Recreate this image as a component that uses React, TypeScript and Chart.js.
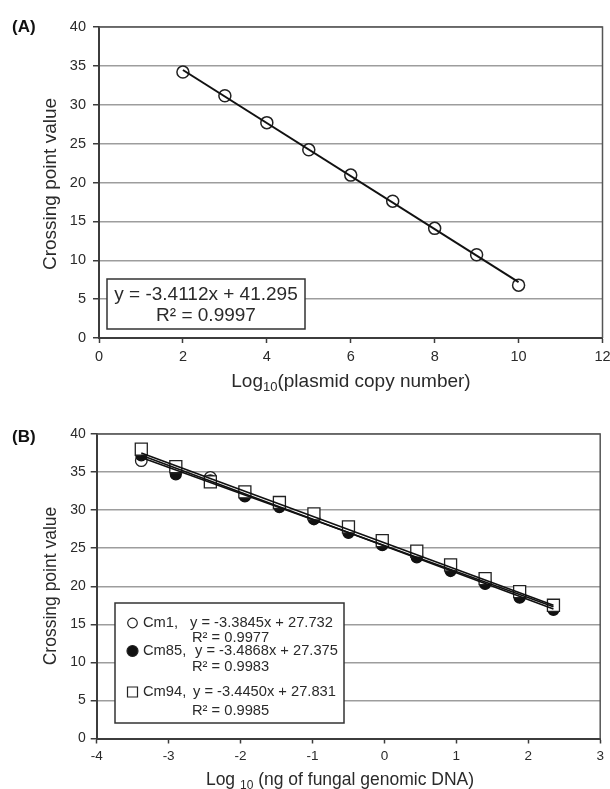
import React, { useEffect, useRef } from "react";
import { Chart, registerables } from "chart.js";
Chart.register(...registerables);

const FONT = "'Liberation Sans', Arial, Helvetica, sans-serif";
const TXT = "#2a2a2a";
const GRID = "#9d9d9d";
const AXIS = "#3c3c3c";

// ---------- Panel A data ----------
const plasmidLog = [2, 3, 4, 5, 6, 7, 8, 9, 10];
const plasmidCp = [34.2, 31.15, 27.7, 24.2, 20.95, 17.6, 14.1, 10.7, 6.8];
const trendAX = [2, 10];
const trendAY = [34.47, 7.18];
const eqA = ["y = -3.4112x + 41.295", "R² = 0.9997"];
const titleAX = ["Log", "10", "(plasmid copy number)"];
const titleY = "Crossing point value";

// ---------- Panel B data ----------
const dnaLog = [-3.38, -2.9, -2.42, -1.94, -1.46, -0.98, -0.5, -0.03, 0.45, 0.92, 1.4, 1.88, 2.35];
const cm1 = [36.5, 35.2, 34.3, 32.3, 30.7, 29.0, 27.3, 25.6, 24.0, 22.3, 20.6, 18.9, 17.2];
const cm85 = [37.2, 34.7, 33.9, 31.8, 30.4, 28.8, 27.0, 25.4, 23.8, 22.0, 20.3, 18.5, 16.9];
const cm94 = [38.0, 35.7, 33.7, 32.4, 31.0, 29.5, 27.8, 26.0, 24.6, 22.8, 21.0, 19.3, 17.5];
const trendBX = [-3.38, 2.35];
const trendCm1 = [36.9, 17.3];
const trendCm85 = [37.2, 17.0];
const trendCm94 = [37.5, 17.5];
const legendNames = ["Cm1,", "Cm85,", "Cm94,"];
const legendEqs = ["y = -3.3845x + 27.732", "y = -3.4868x + 27.375", "y = -3.4450x + 27.831"];
const legendR2 = ["R² = 0.9977", "R² = 0.9983", "R² = 0.9985"];
const titleBX = ["Log ", "10", " (ng of fungal genomic DNA)"];

const pts = (xs: number[], ys: number[]) => xs.map((x, i) => ({ x, y: ys[i] }));

function drawSubTitle(ctx: CanvasRenderingContext2D, parts: string[], cx: number, cy: number, size: number) {
  ctx.save();
  ctx.fillStyle = TXT;
  ctx.textBaseline = "middle";
  ctx.textAlign = "left";
  const big = `${size}px ${FONT}`;
  const small = `${Math.round(size * 0.68)}px ${FONT}`;
  ctx.font = big;
  const w0 = ctx.measureText(parts[0]).width;
  const w2 = ctx.measureText(parts[2]).width;
  ctx.font = small;
  const w1 = ctx.measureText(parts[1]).width;
  let x = cx - (w0 + w1 + w2) / 2;
  ctx.font = big;
  ctx.fillText(parts[0], x, cy);
  x += w0;
  ctx.font = small;
  ctx.fillText(parts[1], x, cy + size * 0.3);
  x += w1;
  ctx.font = big;
  ctx.fillText(parts[2], x, cy);
  ctx.restore();
}

function drawYTitle(ctx: CanvasRenderingContext2D, text: string, cx: number, cy: number, size: number) {
  ctx.save();
  ctx.translate(cx, cy);
  ctx.rotate(-Math.PI / 2);
  ctx.fillStyle = TXT;
  ctx.font = `${size}px ${FONT}`;
  ctx.textAlign = "center";
  ctx.textBaseline = "middle";
  ctx.fillText(text, 0, 0);
  ctx.restore();
}

function drawFrame(chart: any) {
  const { ctx, chartArea: a } = chart;
  ctx.save();
  ctx.strokeStyle = "#555";
  ctx.lineWidth = 1.5;
  ctx.beginPath();
  ctx.moveTo(a.left, a.top);
  ctx.lineTo(a.right, a.top);
  ctx.lineTo(a.right, a.bottom);
  ctx.stroke();
  ctx.restore();
}

function drawPanelLabel(ctx: CanvasRenderingContext2D, text: string, x: number, y: number) {
  ctx.save();
  ctx.fillStyle = "#111";
  ctx.font = `bold 17px ${FONT}`;
  ctx.textAlign = "left";
  ctx.textBaseline = "middle";
  ctx.fillText(text, x, y);
  ctx.restore();
}

const axisCommon = (min: number, max: number, step: number, size: number, pad: number) => ({
  type: "linear" as const,
  min,
  max,
  ticks: { stepSize: step, color: TXT, font: { family: FONT, size }, padding: pad },
  border: { color: AXIS, width: 2 },
});

const fixX = (h: number) => (s: any) => {
  s.height = h;
  s.paddingLeft = 0;
  s.paddingRight = 0;
};
const fixY = (w: number) => (s: any) => {
  s.width = w;
  s.paddingTop = 0;
  s.paddingBottom = 0;
};

function configA(): any {
  const plugin = {
    id: "annotA",
    afterDraw(chart: any) {
      const ctx = chart.ctx as CanvasRenderingContext2D;
      drawFrame(chart);
      drawPanelLabel(ctx, "(A)", 12, 27);
      drawYTitle(ctx, titleY, 51, 184, 19);
      drawSubTitle(ctx, titleAX, 351, 382, 19);
      // equation box
      ctx.save();
      ctx.fillStyle = "#fff";
      ctx.fillRect(107, 279, 198, 50);
      ctx.strokeStyle = "#333";
      ctx.lineWidth = 1.5;
      ctx.strokeRect(107, 279, 198, 50);
      ctx.fillStyle = TXT;
      ctx.font = `19px ${FONT}`;
      ctx.textAlign = "center";
      ctx.textBaseline = "middle";
      ctx.fillText(eqA[0], 206, 295);
      ctx.fillText(eqA[1], 206, 316);
      ctx.restore();
    },
  };
  return {
    type: "scatter",
    data: {
      datasets: [
        {
          type: "line",
          data: pts(trendAX, trendAY),
          borderColor: "#111",
          borderWidth: 2,
          pointRadius: 0,
          fill: false,
        },
        {
          data: pts(plasmidLog, plasmidCp),
          pointStyle: "circle",
          pointRadius: 6,
          pointBorderWidth: 1.5,
          borderColor: "#222",
          backgroundColor: "#fff",
        },
      ],
    },
    options: {
      responsive: false,
      animation: false,
      devicePixelRatio: 1,
      layout: { padding: { top: 27, right: 6, left: 0, bottom: 0 } },
      plugins: { legend: { display: false }, tooltip: { enabled: false } },
      scales: {
        x: {
          ...axisCommon(0, 12, 2, 14.5, 5),
          grid: { drawOnChartArea: false, tickLength: 5, tickColor: AXIS, tickWidth: 1.5 },
          afterFit: fixX(57),
        },
        y: {
          ...axisCommon(0, 40, 5, 14.5, 7),
          grid: { color: GRID, lineWidth: 1.5, tickLength: 6, tickColor: AXIS, tickWidth: 1.5 },
          afterFit: fixY(99),
        },
      },
    },
    plugins: [plugin],
  };
}

function configB(): any {
  const plugin = {
    id: "annotB",
    afterDraw(chart: any) {
      const ctx = chart.ctx as CanvasRenderingContext2D;
      drawFrame(chart);
      drawPanelLabel(ctx, "(B)", 12, 42);
      drawYTitle(ctx, titleY, 51, 191, 17.5);
      drawSubTitle(ctx, titleBX, 340, 385, 17.5);
      // legend box
      ctx.save();
      ctx.fillStyle = "#fff";
      ctx.fillRect(115, 208, 229, 120);
      ctx.strokeStyle = "#333";
      ctx.lineWidth = 1.5;
      ctx.strokeRect(115, 208, 229, 120);
      const rowY = [228, 256, 297];
      const r2Y = [243, 272, 316];
      const eqX = [190, 195, 193];
      ctx.font = `14.7px ${FONT}`;
      ctx.textBaseline = "middle";
      ctx.textAlign = "left";
      for (let i = 0; i < 3; i++) {
        ctx.lineWidth = 1.2;
        ctx.strokeStyle = "#222";
        ctx.fillStyle = i === 1 ? "#111" : "#fff";
        ctx.beginPath();
        if (i === 2) {
          ctx.rect(127.5, rowY[i] - 5, 10, 10);
        } else {
          ctx.arc(132.5, rowY[i], i === 1 ? 5.5 : 4.8, 0, Math.PI * 2);
        }
        ctx.fill();
        ctx.stroke();
        ctx.fillStyle = TXT;
        ctx.fillText(legendNames[i], 143, rowY[i]);
        ctx.fillText(legendEqs[i], eqX[i], rowY[i]);
        ctx.fillText(legendR2[i], 192, r2Y[i]);
      }
      ctx.restore();
    },
  };
  const trend = (ys: number[]) => ({
    type: "line",
    data: pts(trendBX, ys),
    borderColor: "#111",
    borderWidth: 1.6,
    pointRadius: 0,
    fill: false,
  });
  return {
    type: "scatter",
    data: {
      datasets: [
        trend(trendCm1),
        trend(trendCm85),
        trend(trendCm94),
        {
          data: pts(dnaLog, cm94),
          pointStyle: "rect",
          pointRadius: 8.5,
          pointBorderWidth: 1.3,
          borderColor: "#222",
          backgroundColor: "#fff",
        },
        {
          data: pts(dnaLog, cm85),
          pointStyle: "circle",
          pointRadius: 5.5,
          pointBorderWidth: 1.3,
          borderColor: "#111",
          backgroundColor: "#111",
        },
        {
          data: pts(dnaLog, cm1),
          pointStyle: "circle",
          pointRadius: 5.8,
          pointBorderWidth: 1.3,
          borderColor: "#222",
          backgroundColor: "#fff",
        },
      ],
    },
    options: {
      responsive: false,
      animation: false,
      devicePixelRatio: 1,
      layout: { padding: { top: 39, right: 7, left: 0, bottom: 0 } },
      plugins: { legend: { display: false }, tooltip: { enabled: false } },
      scales: {
        x: {
          ...axisCommon(-4, 3, 1, 13.5, 5),
          grid: { drawOnChartArea: false, tickLength: 5, tickColor: AXIS, tickWidth: 1.5 },
          afterFit: fixX(50.5),
        },
        y: {
          ...axisCommon(0, 40, 5, 14, 5),
          grid: { color: GRID, lineWidth: 1.5, tickLength: 6, tickColor: AXIS, tickWidth: 1.5 },
          afterFit: fixY(96.7),
        },
      },
    },
    plugins: [plugin],
  };
}

function Panel({ make, top, height }: { make: () => any; top: number; height: number }) {
  const ref = useRef<HTMLCanvasElement>(null);
  useEffect(() => {
    const chart = new Chart(ref.current as HTMLCanvasElement, make());
    return () => chart.destroy();
  }, []);
  return (
    <canvas
      ref={ref}
      width={610}
      height={height}
      style={{ position: "absolute", left: 0, top, width: 610, height }}
    />
  );
}

export default function App() {
  return (
    <div style={{ position: "absolute", left: 0, top: 0, width: 610, height: 789, background: "#fff" }}>
      <Panel make={configA} top={0} height={395} />
      <Panel make={configB} top={395} height={394} />
    </div>
  );
}
